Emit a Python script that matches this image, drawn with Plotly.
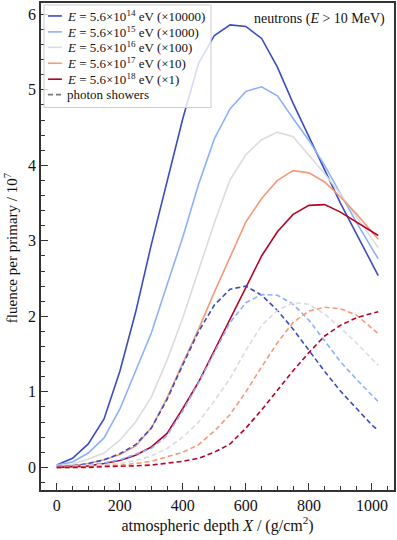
import plotly.graph_objects as go

# atmospheric depth grid (g/cm^2)
depth = [0, 50, 100, 150, 200, 250, 300, 350, 400, 450, 500, 550, 600,
         650, 700, 750, 800, 850, 900, 950, 1000, 1020]

# neutron fluence per primary / 1e7, hadronic showers (scaled)
n_e14 = [0.03, 0.12, 0.31, 0.64, 1.27, 2.05, 2.95, 3.80, 4.62, 5.35, 5.72, 5.86, 5.84,
         5.68, 5.30, 4.82, 4.38, 3.92, 3.50, 3.10, 2.70, 2.54]
n_e15 = [0.03, 0.07, 0.19, 0.39, 0.77, 1.28, 1.78, 2.42, 3.05, 3.75, 4.35, 4.75, 4.98,
         5.04, 4.92, 4.62, 4.33, 4.00, 3.62, 3.25, 2.90, 2.76]
n_e16 = [0.02, 0.04, 0.11, 0.19, 0.36, 0.60, 0.93, 1.42, 1.98, 2.61, 3.24, 3.81, 4.14,
         4.34, 4.44, 4.38, 4.14, 3.89, 3.62, 3.33, 3.03, 2.91]
n_e17 = [0.01, 0.02, 0.05, 0.10, 0.17, 0.28, 0.52, 0.92, 1.38, 1.83, 2.32, 2.78, 3.25,
         3.56, 3.80, 3.93, 3.90, 3.78, 3.58, 3.36, 3.12, 3.02]
n_e18 = [0.00, 0.01, 0.02, 0.05, 0.09, 0.16, 0.27, 0.45, 0.78, 1.13, 1.55, 1.98, 2.40,
         2.80, 3.12, 3.35, 3.47, 3.48, 3.38, 3.25, 3.12, 3.07]

# photon showers
g_e14 = [0.01, 0.02, 0.05, 0.10, 0.18, 0.30, 0.52, 0.90, 1.36, 1.80, 2.15, 2.36, 2.40,
         2.28, 2.08, 1.83, 1.55, 1.27, 1.01, 0.78, 0.56, 0.49]
g_e15 = [0.01, 0.01, 0.03, 0.06, 0.10, 0.17, 0.25, 0.42, 0.75, 1.12, 1.52, 1.92, 2.18,
         2.29, 2.28, 2.16, 1.95, 1.68, 1.40, 1.17, 0.95, 0.87]
g_e16 = [0.00, 0.01, 0.02, 0.03, 0.05, 0.09, 0.15, 0.25, 0.40, 0.60, 0.88, 1.18, 1.55,
         1.88, 2.08, 2.18, 2.16, 2.03, 1.85, 1.65, 1.43, 1.35]
g_e17 = [0.00, 0.00, 0.01, 0.02, 0.03, 0.05, 0.08, 0.14, 0.20, 0.30, 0.48, 0.70, 1.00,
         1.33, 1.65, 1.92, 2.07, 2.12, 2.10, 2.02, 1.85, 1.77]
g_e18 = [0.00, 0.00, 0.00, 0.01, 0.01, 0.02, 0.03, 0.05, 0.08, 0.12, 0.20, 0.31, 0.52,
         0.76, 1.02, 1.28, 1.52, 1.74, 1.88, 1.98, 2.04, 2.06]

exponents = ["14", "15", "16", "17", "18"]
scales = ["10000", "1000", "100", "10", "1"]
colors = ["#3b4cc0", "#8db0fe", "#dddcdc", "#f49a7b", "#b40426"]
neutron_series = [n_e14, n_e15, n_e16, n_e17, n_e18]
photon_series = [g_e14, g_e15, g_e16, g_e17, g_e18]

FONT = "Liberation Serif"
TXT = "#111111"
DASH = "5px,3px"

# plot area in pixels (for placing the hand-made legend and labels)
W, H = 397, 540
ML, MR, MT, MB = 41, 1, 1, 50
PW, PH = W - ML - MR, H - MT - MB


def px(x):
    return (x - ML) / PW


def py(y):
    return (H - MB - y) / PH


fig = go.Figure()

for col, ys in zip(colors, neutron_series):
    fig.add_trace(go.Scatter(x=depth, y=ys, mode="lines",
                             line=dict(color=col, width=1.6), showlegend=False))

for col, ys in zip(colors, photon_series):
    fig.add_trace(go.Scatter(x=depth, y=ys, mode="lines",
                             line=dict(color=col, width=1.6, dash=DASH), showlegend=False))

# legend box, drawn by hand so the line samples are short like the original
fig.add_shape(type="rect", xref="paper", yref="paper",
              x0=px(44), x1=px(212), y0=py(106), y1=py(3),
              fillcolor="rgba(255,255,255,0.8)", line=dict(color="#cccccc", width=1))

labels = [f"<i>E</i> = 5.6×10<sup>{ex}</sup> eV (×{sc})" for ex, sc in zip(exponents, scales)]
labels.append("photon showers")
sample_colors = colors + ["#777777"]
rows = [14, 30, 45.5, 61.5, 77.5, 93]
for i, (lab, col, yy) in enumerate(zip(labels, sample_colors, rows)):
    dash = DASH if i == len(labels) - 1 else "solid"
    fig.add_shape(type="line", xref="paper", yref="paper",
                  x0=px(48), x1=px(62), y0=py(yy), y1=py(yy),
                  line=dict(color=col, width=1.6, dash=dash))
    fig.add_annotation(text=lab, xref="paper", yref="paper",
                       x=px(65), y=py(yy), xanchor="left", yanchor="middle",
                       showarrow=False, font=dict(family=FONT, size=13, color=TXT))

fig.add_annotation(
    text="neutrons (<i>E</i> > 10 MeV)",
    xref="paper", yref="paper", x=px(389), y=py(17),
    xanchor="right", yanchor="middle", showarrow=False,
    font=dict(family=FONT, size=14, color=TXT),
)

# y axis title placed by hand, close to the left edge as in the original
fig.add_annotation(
    text="fluence per primary / 10<sup>7</sup>",
    xref="paper", yref="paper", x=px(11), y=py(247),
    xanchor="center", yanchor="middle", textangle=-90, showarrow=False,
    font=dict(family=FONT, size=15, color=TXT),
)

axis_common = dict(
    showline=True, linecolor="#333333", linewidth=1.5, mirror=True,
    ticks="inside", ticklen=7, tickwidth=1.2, tickcolor="#333333",
    showgrid=False, zeroline=False,
    tickfont=dict(family=FONT, size=16, color=TXT),
)

fig.update_xaxes(
    range=[-50, 1070], tickvals=[0, 200, 400, 600, 800, 1000],
    minor=dict(ticks="inside", ticklen=4, tickcolor="#333333", dtick=50, tick0=0),
    title=dict(text="atmospheric depth <i>X</i> / (g/cm<sup>2</sup>)",
               font=dict(family=FONT, size=16, color=TXT), standoff=4),
    **axis_common,
)
fig.update_yaxes(
    range=[-0.3, 6.15], tickvals=[0, 1, 2, 3, 4, 5, 6],
    minor=dict(ticks="inside", ticklen=4, tickcolor="#333333", dtick=0.2, tick0=0),
    **axis_common,
)

fig.update_layout(
    width=W, height=H,
    margin=dict(l=ML, r=MR, t=MT, b=MB),
    paper_bgcolor="white", plot_bgcolor="white",
    font=dict(family=FONT, size=13, color=TXT),
    showlegend=False,
)

fig.write_html("out.html", config={"displayModeBar": False},
               post_script="document.body.style.margin='0px';")
